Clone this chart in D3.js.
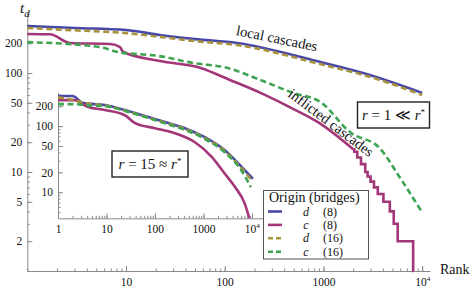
<!DOCTYPE html>
<html>
<head>
<meta charset="utf-8">
<script src="https://d3js.org/d3.v7.min.js"></script>
<style>
  body { margin: 0; background: #fff; }
  text { font-family: "Liberation Serif", "Times New Roman", serif; fill: #111; }
</style>
</head>
<body>
<svg id="chart" width="474" height="296"></svg>
<script>
// ---- data ----
const seriesNames = ["d", "c", "d", "c"];
const seriesBridges = ["(8)", "(8)", "(16)", "(16)"];
const seriesColors = ["#4848a8", "#a33678", "#a8923e", "#3ea452"];
const seriesDashed = [false, false, true, true];

// main plot, r = 1
const mainD8Rank = [1, 3, 10, 22, 50, 133, 930, 3000, 10000];
const mainD8 = [298, 285, 272, 242, 220, 201, 129, 95, 63];
const mainC8Rank = [1, 1.7, 2.7, 6.9, 8.7, 9.3, 22, 56, 113, 230, 460, 920, 2000];
const mainC8 = [248, 246, 201, 196, 183, 164, 132, 113, 85, 63, 45, 31, 17];
const mainC8TailRank = [2000, 2050, 2200, 2400, 2650, 2800, 3000, 3250, 3550, 4050, 4700, 5150, 5650, 8100, 8200];
const mainC8Tail = [17, 16, 14, 12, 10, 9, 8, 7, 6, 5, 4, 3, 2, 1, 1];
const mainD16Rank = [1, 3, 10, 22, 50, 133, 930, 3000, 10000];
const mainD16 = [285, 270, 253, 232, 210, 192, 123, 91, 60];
const mainC16Rank = [1, 5.5, 8, 22, 48, 105, 230, 490, 930, 1880, 3700, 5900, 10000];
const mainC16 = [205, 183, 164, 148, 126, 113, 85, 63, 51, 25, 17.5, 8.9, 3.9];

// inset, r = 15
const inD8Rank = [1, 2, 3.3, 9.3, 24, 62, 161, 415, 1070, 2770, 6200, 10500];
const inD8 = [285, 285, 223, 208, 175, 142, 115, 93, 68, 43, 24, 16];
const inC8Rank = [1, 2.2, 4.2, 9.3, 24, 39, 100, 260, 670, 1500, 2770, 4500, 7100, 9900];
const inC8 = [247, 247, 194, 175, 146, 111, 93, 78, 57, 34, 19, 12, 6.8, 3];
const inD16Rank = [1, 2, 3.3, 9.3, 24, 62, 161, 415, 1070, 2770, 6200, 10000];
const inD16 = [272, 250, 225, 205, 172, 140, 113, 91, 66, 42, 23, 15];
const inC16Rank = [1, 2, 4, 9.3, 24, 62, 161, 415, 1070, 2770, 6200, 9500];
const inC16 = [215, 215, 206, 200, 170, 138, 110, 88, 64, 40, 21, 12];

const mainXTicks = [10, 100, 1000, 10000];
const mainYTicks = [2, 5, 10, 20, 50, 100, 200];
const inXTicks = [1, 10, 100, 1000, 10000];
const inYTicks = [10, 20, 50, 100, 200];

const svg = d3.select("#chart");
const axisColor = "#8a8a8a";

function zip(r, v) { return r.map((d, i) => ({ r: d, v: v[i] })); }

function minorTicks(lo, hi) {
  const out = [];
  for (let e = Math.floor(Math.log10(lo)); e <= Math.ceil(Math.log10(hi)); e++) {
    for (let m = 1; m < 10; m++) {
      const t = m * Math.pow(10, e);
      if (t >= lo && t <= hi) out.push(t);
    }
  }
  return out;
}

function fmt(d) { return d === 10000 ? "" : String(d); }

function drawAxes(g, x, y, xTicks, yTicks, labelGap) {
  const xa = g.append("g").attr("transform", `translate(0,${y.range()[0]})`);
  xa.call(d3.axisBottom(x).tickValues(minorTicks(x.domain()[0], x.domain()[1]))
    .tickSizeInner(-2.5).tickSizeOuter(0).tickFormat(""));
  const xm = g.append("g").attr("transform", `translate(0,${y.range()[0]})`)
    .call(d3.axisBottom(x).tickValues(xTicks).tickSizeInner(-5).tickSizeOuter(0)
      .tickPadding(labelGap).tickFormat(fmt));
  xm.selectAll(".tick text").filter(d => d === 10000).each(function () {
    const t = d3.select(this);
    t.text("10");
    t.append("tspan").attr("dy", -5).attr("font-size", "0.62em").text("4");
  });
  xm.select(".domain").remove();

  const ya = g.append("g").attr("transform", `translate(${x.range()[0]},0)`);
  ya.call(d3.axisLeft(y).tickValues(minorTicks(y.domain()[0], y.domain()[1]))
    .tickSizeInner(-2.5).tickSizeOuter(0).tickFormat(""));
  const ym = g.append("g").attr("transform", `translate(${x.range()[0]},0)`)
    .call(d3.axisLeft(y).tickValues(yTicks).tickSizeInner(-5).tickSizeOuter(0)
      .tickPadding(5).tickFormat(d => String(d)));
  ym.select(".domain").remove();

  g.selectAll(".domain, .tick line").attr("stroke", axisColor).attr("stroke-width", 1);
  g.selectAll(".tick text").attr("font-family", "Liberation Serif, serif")
    .attr("font-size", 11.5).attr("fill", "#222");
}

function drawSeries(g, x, y, data, i, curve) {
  g.append("path")
    .datum(data)
    .attr("fill", "none")
    .attr("stroke", seriesColors[i])
    .attr("stroke-width", 2.6)
    .attr("stroke-dasharray", seriesDashed[i] ? "6,3.5" : null)
    .attr("d", d3.line().x(d => x(d.r)).y(d => y(d.v)).curve(curve || d3.curveMonotoneX));
}

// ---- main plot ----
const x = d3.scaleLog().domain([1, 12000]).range([27.3, 430]);
const y = d3.scaleLog().domain([1, 400]).range([271, 13.4]);
const main = svg.append("g");
drawAxes(main, x, y, mainXTicks, mainYTicks, 7);

// series in drawing order: d8, c8, d16, c16
drawSeries(main, x, y, zip(mainD8Rank, mainD8), 0);
drawSeries(main, x, y, zip(mainC8Rank, mainC8), 1);
drawSeries(main, x, y, zip(mainC8TailRank, mainC8Tail), 1, d3.curveStepAfter);
drawSeries(main, x, y, zip(mainD16Rank, mainD16), 2);
drawSeries(main, x, y, zip(mainC16Rank, mainC16), 3);

// axis titles
const tl = svg.append("text").attr("x", 20).attr("y", 13).attr("font-size", 15).attr("font-style", "italic");
tl.append("tspan").text("t");
tl.append("tspan").attr("dy", 4).attr("font-size", 11).text("d");
svg.append("text").attr("x", 440).attr("y", 274).attr("font-size", 14).text("Rank");

// curve labels
svg.append("text")
  .attr("transform", `translate(${x(330)},${y(200)}) rotate(11.5)`)
  .attr("text-anchor", "middle").attr("font-size", 14.5).text("local cascades");
svg.append("text")
  .attr("transform", `translate(${x(1114)},${y(28.8)}) rotate(37)`)
  .attr("text-anchor", "middle").attr("font-size", 14.5).text("inflicted cascades");

function noteBox(cx, cy, w, h, parts) {
  const g = svg.append("g");
  g.append("rect").attr("x", cx - w / 2).attr("y", cy - h / 2).attr("width", w).attr("height", h)
    .attr("fill", "#fff").attr("stroke", "#222").attr("stroke-width", 1.4);
  const t = g.append("text").attr("x", cx).attr("y", cy + 5).attr("text-anchor", "middle").attr("font-size", 15);
  parts.forEach(p => {
    const s = t.append("tspan").text(p.t);
    if (p.i) s.attr("font-style", "italic");
    if (p.sup) s.attr("dy", -5).attr("font-size", 9);
  });
}
noteBox(393.5, 115, 72, 26, [{ t: "r", i: true }, { t: " = 1 \u226A " }, { t: "r", i: true }, { t: "*", sup: true }]);

// ---- inset, r = 15 ----
const xi = d3.scaleLog().domain([1, 17800]).range([58, 264]);
const yi = d3.scaleLog().domain([4.04, 320]).range([218.3, 92.7]);
const inset = svg.append("g");
svg.append("clipPath").attr("id", "insetClip").append("rect")
  .attr("x", 58).attr("y", 80).attr("width", 210).attr("height", 138.3);
drawAxes(inset, xi, yi, inXTicks, inYTicks, 7);
const insetLines = inset.append("g").attr("clip-path", "url(#insetClip)");
drawSeries(insetLines, xi, yi, zip(inD8Rank, inD8), 0);
drawSeries(insetLines, xi, yi, zip(inC8Rank, inC8), 1);
drawSeries(insetLines, xi, yi, zip(inD16Rank, inD16), 2);
drawSeries(insetLines, xi, yi, zip(inC16Rank, inC16), 3);

noteBox(150, 164, 76, 26, [{ t: "r", i: true }, { t: " = 15 \u2248 " }, { t: "r", i: true }, { t: "*", sup: true }]);

// ---- legend ----
const lg = svg.append("g");
lg.append("rect").attr("x", 263.5).attr("y", 190.5).attr("width", 105).attr("height", 68.5)
  .attr("fill", "#fff").attr("stroke", "#555").attr("stroke-width", 1);
lg.append("text").attr("x", 269).attr("y", 201.5).attr("font-size", 14).text("Origin (bridges)");
seriesNames.forEach((n, i) => {
  const cy = 211.5 + i * 13.4;
  lg.append("line").attr("x1", 268).attr("x2", 282).attr("y1", cy).attr("y2", cy)
    .attr("stroke", seriesColors[i]).attr("stroke-width", 2.6)
    .attr("stroke-dasharray", seriesDashed[i] ? "5,3" : null);
  lg.append("text").attr("x", 306).attr("y", cy + 4).attr("font-size", 12)
    .attr("font-style", "italic").attr("text-anchor", "middle").text(n);
  lg.append("text").attr("x", 323).attr("y", cy + 4).attr("font-size", 12).text(seriesBridges[i]);
});
</script>
</body>
</html>
